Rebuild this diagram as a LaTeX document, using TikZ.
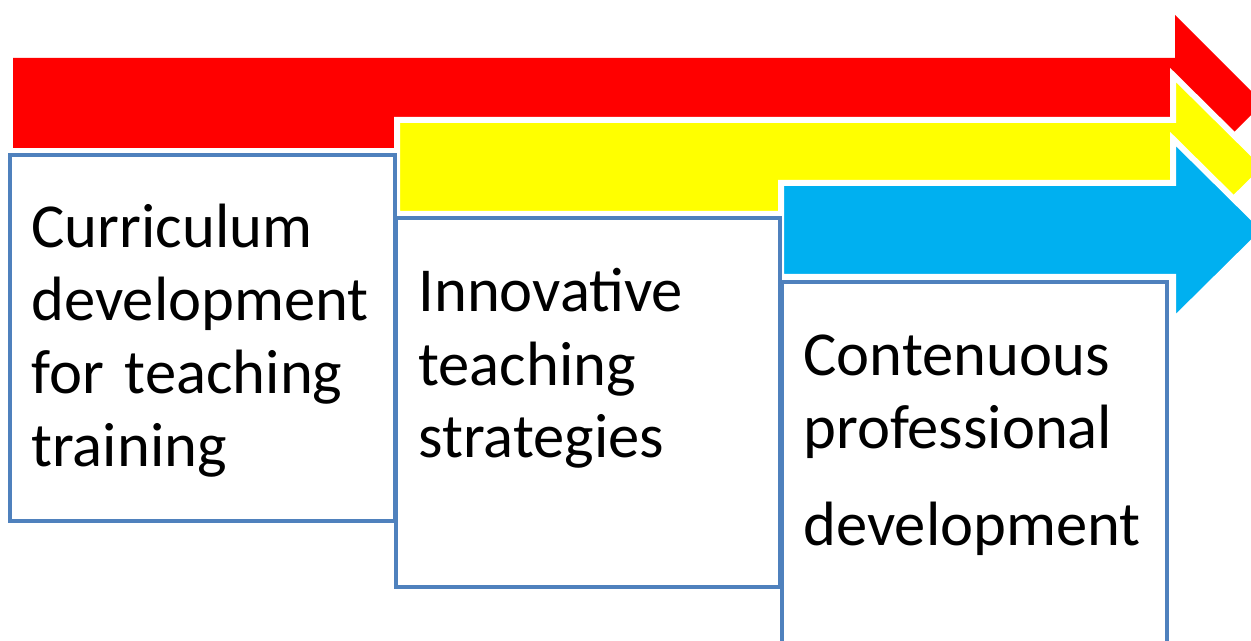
\documentclass[tikz,border=0pt]{standalone}
\usepackage{fontspec}
\setmainfont{Carlito}
\definecolor{bandred}{HTML}{FF0000}
\definecolor{bandyellow}{HTML}{FFFF00}
\definecolor{bandblue}{HTML}{00B0F0}
\definecolor{stageblue}{HTML}{4F81BD}

\tikzset{
    band/.style={draw=white, line width=3pt, line join=miter},
    stage/.style={draw=stageblue, line width=2pt, fill=white, anchor=north west, inner sep=0pt, outer sep=0pt},
    stagetext/.style={anchor=base west, align=left, text width=180pt, inner sep=0pt,
                      font=\fontsize{31.3}{36.5}\selectfont}
}

\begin{document}
\begin{tikzpicture}[x=0.5pt, y=-0.5pt]
    \useasboundingbox (0, 0) rectangle (1251, 641);

    % the three arrows
    \fill [bandred] (13, 58) -- (1175, 58) -- (1175, 15) -- (1263, 103) -- (1175, 191) -- (1175, 148) -- (13, 148) -- cycle;
    \filldraw [band, fill=bandyellow] (397, 120) -- (1173, 120) -- (1173, 75) -- (1266, 167) -- (1173, 259) --
                (1173, 214) -- (397, 214) -- cycle;
    \filldraw [band, fill=bandblue] (781, 183) -- (1173, 183) -- (1173, 139) -- (1265, 230) -- (1173, 321) --
                (1173, 277) -- (781, 277) -- cycle;

    % the three boxes
    \node [stage, minimum width=192.5pt, minimum height=183pt] (curr) at (10, 155) {};
    \node [stage, minimum width=192pt, minimum height=184.5pt] (inno) at (396, 218) {};
    \node [stage, minimum width=192.5pt, minimum height=209pt] (cpd) at (782, 282) {};

    \node [stagetext] (currtext) at (31, 248) {Curriculum\\development\\for teaching\\training};
    \node [stagetext] (innotext) at (418, 312) {Innovative\\teaching\\strategies};
    \node [stagetext] (cpdtext) at (803, 375) {Contenuous\\professional\\[12pt]development};

\end{tikzpicture}
\end{document}
